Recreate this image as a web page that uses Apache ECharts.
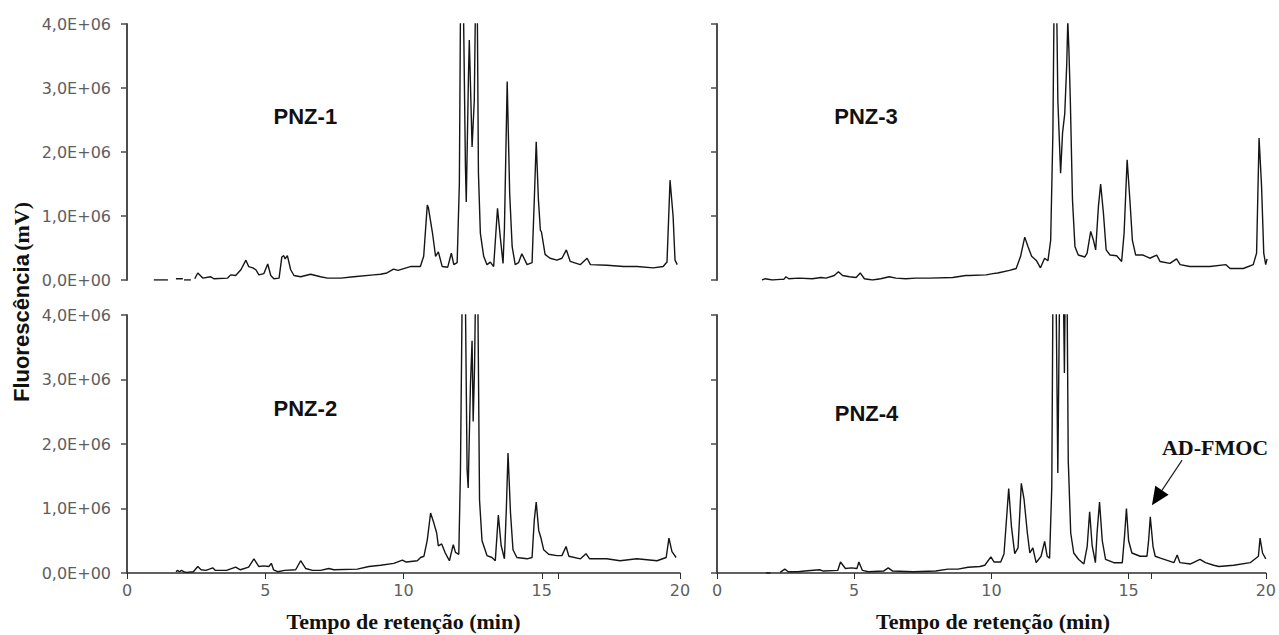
<!DOCTYPE html>
<html>
<head>
<meta charset="utf-8">
<script src="https://cdn.jsdelivr.net/npm/echarts@6/dist/echarts.min.js"></script>
<style>
  html, body { margin: 0; padding: 0; background: #ffffff; }
  #chart { width: 1279px; height: 635px; }
</style>
</head>
<body>
<div id="chart"></div>
<script>
// Retention time ticks (min) and fluorescence ticks (units of 1E+06 mV)
const xTicks = [0, 5, 10, 15, 20];
const yTicks = [0, 1, 2, 3, 4];
const sampleNames = ['PNZ-1', 'PNZ-2', 'PNZ-3', 'PNZ-4'];
const yUnit = 1e6;

// Chromatograms: [retention time (min), fluorescence (×1E+06 mV)]; '-' breaks the trace
const pnz1 = [[0.97,0],[1.48,0],[1.6,'-'],[1.77,0.02],[2.02,0.02],[2.04,'-'],[2.06,0],[2.31,0],[2.4,'-'],[2.45,0.02],[2.56,0.11],[2.74,0.03],[3.03,0.05],[3.14,0.02],[3.64,0.03],[3.75,0.08],[3.93,0.07],[4.12,0.16],[4.3,0.31],[4.4,0.21],[4.55,0.19],[4.66,0.16],[4.77,0.08],[4.95,0.1],[5.09,0.25],[5.2,0.07],[5.31,0.02],[5.5,0.03],[5.6,0.36],[5.67,0.38],[5.72,0.33],[5.8,0.38],[5.92,0.16],[6.04,0.07],[6.28,0.05],[6.64,0.09],[7.0,0.05],[7.25,0.03],[7.73,0.03],[8.2,0.05],[8.92,0.08],[9.17,0.09],[9.4,0.11],[9.64,0.17],[9.8,0.15],[10.25,0.21],[10.61,0.21],[10.73,0.37],[10.86,1.17],[10.9,1.13],[11.05,0.73],[11.16,0.37],[11.26,0.44],[11.4,0.21],[11.6,0.2],[11.73,0.42],[11.82,0.24],[11.94,0.27],[12.02,1.5],[12.06,4.2],[12.11,6.0],[12.17,4.2],[12.24,1.77],[12.27,1.22],[12.35,3.2],[12.38,3.75],[12.48,2.08],[12.56,2.8],[12.6,4.2],[12.64,6.0],[12.67,4.2],[12.71,1.67],[12.78,0.73],[12.9,0.37],[13.02,0.24],[13.14,0.28],[13.26,0.21],[13.4,1.12],[13.5,0.67],[13.6,0.26],[13.65,0.8],[13.75,3.1],[13.84,1.35],[13.93,0.52],[14.04,0.24],[14.16,0.27],[14.28,0.41],[14.47,0.24],[14.65,0.27],[14.73,1.25],[14.8,2.16],[14.88,1.25],[14.95,0.78],[14.99,0.75],[15.12,0.4],[15.3,0.34],[15.55,0.31],[15.73,0.34],[15.89,0.47],[16.03,0.29],[16.39,0.24],[16.64,0.34],[16.76,0.24],[17.36,0.23],[17.96,0.21],[18.45,0.21],[19.03,0.19],[19.39,0.21],[19.53,0.28],[19.64,1.56],[19.75,1.0],[19.82,0.31],[19.9,0.24]];

const pnz2 = [[1.77,0.02],[1.83,0.04],[1.9,0.02],[1.97,0.04],[2.05,0.02],[2.15,0.01],[2.4,0.02],[2.56,0.1],[2.68,0.05],[2.85,0.04],[2.98,0.06],[3.1,0.08],[3.2,0.04],[3.6,0.04],[3.93,0.09],[4.1,0.05],[4.4,0.09],[4.59,0.22],[4.77,0.1],[4.95,0.11],[5.13,0.1],[5.22,0.15],[5.3,0.05],[5.45,0.02],[5.7,0.04],[6.1,0.05],[6.28,0.19],[6.46,0.07],[6.71,0.04],[7.0,0.04],[7.3,0.07],[7.48,0.05],[8.33,0.06],[8.75,0.1],[9.17,0.12],[9.65,0.15],[9.96,0.2],[10.1,0.17],[10.5,0.19],[10.62,0.24],[10.74,0.26],[10.86,0.51],[10.98,0.93],[11.1,0.77],[11.2,0.62],[11.26,0.42],[11.38,0.45],[11.5,0.32],[11.66,0.19],[11.8,0.44],[11.88,0.32],[12.0,0.29],[12.06,1.6],[12.12,4.2],[12.18,6.0],[12.24,4.2],[12.3,1.6],[12.34,1.32],[12.42,2.9],[12.48,3.6],[12.52,2.35],[12.57,3.2],[12.6,4.2],[12.645,6.0],[12.69,4.2],[12.75,1.13],[12.84,0.5],[13.02,0.27],[13.2,0.24],[13.32,0.19],[13.43,0.9],[13.53,0.43],[13.65,0.22],[13.72,1.0],[13.78,1.86],[13.87,0.93],[13.96,0.36],[14.1,0.24],[14.47,0.22],[14.65,0.24],[14.73,0.82],[14.8,1.1],[14.89,0.66],[14.98,0.53],[15.07,0.36],[15.25,0.29],[15.55,0.27],[15.73,0.27],[15.88,0.41],[15.98,0.26],[16.4,0.22],[16.6,0.3],[16.73,0.22],[17.35,0.22],[17.83,0.19],[18.44,0.22],[19.17,0.19],[19.5,0.24],[19.6,0.54],[19.71,0.33],[19.86,0.24]];

const pnz3 = [[1.63,0],[1.75,0.02],[2.0,0],[2.3,0.01],[2.42,0.01],[2.5,0.05],[2.6,0.02],[2.96,0.03],[3.45,0.02],[3.77,0.04],[3.95,0.03],[4.25,0.07],[4.4,0.13],[4.55,0.07],[4.8,0.05],[5.04,0.04],[5.19,0.11],[5.34,0.02],[5.63,0.0],[5.93,0.02],[6.24,0.05],[6.48,0.03],[6.84,0.02],[7.2,0.03],[7.7,0.03],[8.54,0.04],[9.02,0.07],[9.15,0.07],[9.75,0.08],[9.99,0.1],[10.17,0.11],[10.6,0.15],[10.84,0.18],[11.0,0.37],[11.15,0.67],[11.27,0.52],[11.4,0.37],[11.58,0.3],[11.72,0.19],[11.87,0.34],[11.99,0.3],[12.09,0.62],[12.17,2.3],[12.21,4.2],[12.26,4.4],[12.31,4.2],[12.35,2.8],[12.45,1.67],[12.52,2.3],[12.6,2.6],[12.67,3.35],[12.71,4.05],[12.75,3.6],[12.8,2.84],[12.88,1.25],[12.97,0.52],[13.09,0.39],[13.33,0.36],[13.41,0.42],[13.54,0.76],[13.64,0.62],[13.72,0.47],[13.82,1.15],[13.9,1.5],[14.0,1.05],[14.1,0.47],[14.24,0.39],[14.48,0.38],[14.66,0.29],[14.75,0.73],[14.86,1.88],[14.96,1.25],[15.05,0.62],[15.17,0.39],[15.44,0.39],[15.68,0.34],[15.93,0.39],[16.05,0.29],[16.41,0.26],[16.65,0.33],[16.78,0.24],[17.13,0.21],[17.86,0.21],[18.44,0.24],[18.59,0.18],[19.07,0.18],[19.43,0.24],[19.55,0.42],[19.64,2.22],[19.73,1.47],[19.81,0.42],[19.88,0.24],[19.93,0.33]];

const pnz4 = [[1.78,0],[1.95,0],[1.97,'-'],[2.3,0.01],[2.47,0.06],[2.6,0.02],[2.95,0.02],[3.2,0.03],[3.74,0.05],[3.88,0.03],[4.4,0.04],[4.5,0.17],[4.68,0.07],[4.9,0.08],[5.1,0.07],[5.17,0.17],[5.3,0.04],[5.52,0.02],[6.07,0.03],[6.24,0.08],[6.4,0.03],[7.15,0.02],[7.97,0.03],[8.42,0.06],[8.78,0.06],[9.15,0.09],[9.58,0.1],[9.76,0.12],[9.98,0.25],[10.1,0.17],[10.34,0.17],[10.46,0.3],[10.63,1.31],[10.73,0.72],[10.85,0.3],[10.97,0.39],[11.09,1.39],[11.19,1.14],[11.31,0.62],[11.4,0.31],[11.51,0.39],[11.63,0.16],[11.81,0.26],[11.94,0.49],[12.03,0.26],[12.12,0.23],[12.2,1.33],[12.24,4.2],[12.3,6.0],[12.36,4.2],[12.42,1.55],[12.48,4.2],[12.56,6.0],[12.62,4.5],[12.66,3.1],[12.69,4.5],[12.72,6.0],[12.76,4.2],[12.8,1.75],[12.89,0.62],[13.0,0.31],[13.18,0.21],[13.37,0.14],[13.49,0.41],[13.58,0.95],[13.67,0.43],[13.79,0.16],[13.85,0.62],[13.94,1.1],[14.04,0.5],[14.16,0.21],[14.46,0.16],[14.77,0.16],[14.86,0.62],[14.92,1.0],[15.0,0.5],[15.12,0.31],[15.42,0.26],[15.67,0.26],[15.73,0.51],[15.79,0.87],[15.89,0.41],[15.97,0.26],[16.16,0.23],[16.65,0.16],[16.77,0.28],[16.87,0.16],[17.26,0.14],[17.6,0.21],[17.8,0.16],[18.1,0.12],[18.29,0.1],[18.83,0.12],[19.43,0.16],[19.73,0.26],[19.79,0.54],[19.88,0.31],[20.0,0.22]];

// Panel order: top-left, bottom-left, top-right, bottom-right
const traces = [pnz1, pnz2, pnz3, pnz4];
// Extra marker tick on the time axis of each lower panel (min)
const markerTicks = [null, 15.6, null, 15.83];
// Sample label anchors in data units [min, ×1E+06]
const nameAnchors = [[6.45, 2.55], [6.45, 2.55], [5.4, 2.55], [5.45, 2.48]];
// Annotation on PNZ-4
const annotText = 'AD-FMOC';
const annotTip = [15.85, 1.05];
const annotTail = [16.95, 1.75];
const annotLabel = [18.15, 1.95];

const gridBoxes = [
  { left: 127, top: 24,  width: 553, height: 256 },
  { left: 127, top: 315, width: 553, height: 258 },
  { left: 717, top: 24,  width: 552, height: 256 },
  { left: 717, top: 315, width: 552, height: 258 }
];

const axisColor = '#4d4d4d';
const labelColor = '#5e5e5e';
const tickFont = 'DejaVu Sans';

function yFormat(v) {
  const m = v / yUnit;
  return m.toFixed(1).replace('.', ',') + (m === 0 ? 'E+00' : 'E+06');
}

const xAxes = gridBoxes.map((g, i) => {
  const bottom = (i === 1 || i === 3);
  const tickVals = xTicks.slice();
  if (markerTicks[i] != null) tickVals.push(markerTicks[i]);
  return {
    type: 'value', gridIndex: i, min: xTicks[0], max: xTicks[xTicks.length - 1], interval: 5,
    show: bottom,
    axisLine: { show: true, onZero: false, lineStyle: { color: '#2e2e2e', width: 1.5 } },
    axisTick: { show: true, length: 6, lineStyle: { color: '#2e2e2e', width: 1 }, customValues: tickVals },
    axisLabel: { show: true, margin: 9, color: labelColor, fontSize: 16, fontFamily: tickFont },
    splitLine: { show: false }
  };
});

const yAxes = gridBoxes.map((g, i) => ({
  type: 'value', gridIndex: i, min: 0, max: yTicks[yTicks.length - 1] * yUnit, interval: yUnit,
  axisLine: { show: true, lineStyle: { color: axisColor, width: 2 } },
  axisTick: { show: true, length: 6, lineStyle: { color: axisColor, width: 1.5 } },
  axisLabel: { show: i < 2, margin: 16, color: labelColor, fontSize: 16, fontFamily: tickFont, formatter: yFormat },
  splitLine: { show: false }
}));

const series = traces.map((tr, i) => ({
  type: 'line', name: sampleNames[i], xAxisIndex: i, yAxisIndex: i,
  data: tr.map(p => [p[0], p[1] === '-' ? '-' : p[1] * yUnit]),
  showSymbol: false, symbol: 'none', clip: true, silent: true,
  connectNulls: false,
  lineStyle: { color: '#151515', width: 1.4 }
}));

const chart = echarts.init(document.getElementById('chart'), null, { renderer: 'svg' });
chart.setOption({
  animation: false,
  backgroundColor: '#ffffff',
  grid: gridBoxes.map(g => Object.assign({ containLabel: false }, g)),
  xAxis: xAxes,
  yAxis: yAxes,
  series: series
});

// Text and arrow annotations placed through each panel's coordinate system
const px = (i, p) => chart.convertToPixel({ gridIndex: i }, [p[0], p[1] * yUnit]);
const graphics = [];

sampleNames.forEach((name, i) => {
  const p = px(i, nameAnchors[i]);
  graphics.push({
    type: 'text', x: p[0], y: p[1], silent: true,
    style: { text: name, font: 'bold 22px "Liberation Sans"', fill: '#111111', align: 'center', verticalAlign: 'middle' }
  });
});

const tip = px(3, annotTip);
const tail = px(3, annotTail);
const lab = px(3, annotLabel);
const dx = tip[0] - tail[0], dy = tip[1] - tail[1];
const len = Math.sqrt(dx * dx + dy * dy);
const ux = dx / len, uy = dy / len;
const headLen = 18, headHalf = 8;
const bx = tip[0] - ux * headLen, by = tip[1] - uy * headLen;
graphics.push({
  type: 'line', silent: true,
  shape: { x1: tail[0], y1: tail[1], x2: bx, y2: by },
  style: { stroke: '#222222', lineWidth: 1.2 }
});
graphics.push({
  type: 'polygon', silent: true,
  shape: { points: [[tip[0], tip[1]], [bx - uy * headHalf, by + ux * headHalf], [bx + uy * headHalf, by - ux * headHalf]] },
  style: { fill: '#000000' }
});
graphics.push({
  type: 'text', x: lab[0], y: lab[1], silent: true,
  style: { text: annotText, font: 'bold 22px "Liberation Serif"', fill: '#111111', align: 'center', verticalAlign: 'middle' }
});

// Axis titles
const leftMid = gridBoxes[0].left + gridBoxes[0].width / 2;
const rightMid = gridBoxes[2].left + gridBoxes[2].width / 2;
[leftMid, rightMid].forEach(cx => {
  graphics.push({
    type: 'text', x: cx, y: 621, silent: true,
    style: { text: 'Tempo de retenção (min)', font: 'bold 22px "Liberation Serif"', fill: '#111111', align: 'center', verticalAlign: 'middle' }
  });
});
graphics.push({
  type: 'text', x: 21, y: 302, rotation: Math.PI / 2, silent: true,
  style: {
    text: '{a|Fluorescência} {b|(mV)}',
    align: 'center', verticalAlign: 'middle', fill: '#111111',
    rich: {
      a: { font: 'bold 22px "Liberation Sans"', fill: '#111111' },
      b: { font: 'bold 22px "Liberation Serif"', fill: '#111111' }
    }
  }
});

chart.setOption({ graphic: { elements: graphics } });
</script>
</body>
</html>
